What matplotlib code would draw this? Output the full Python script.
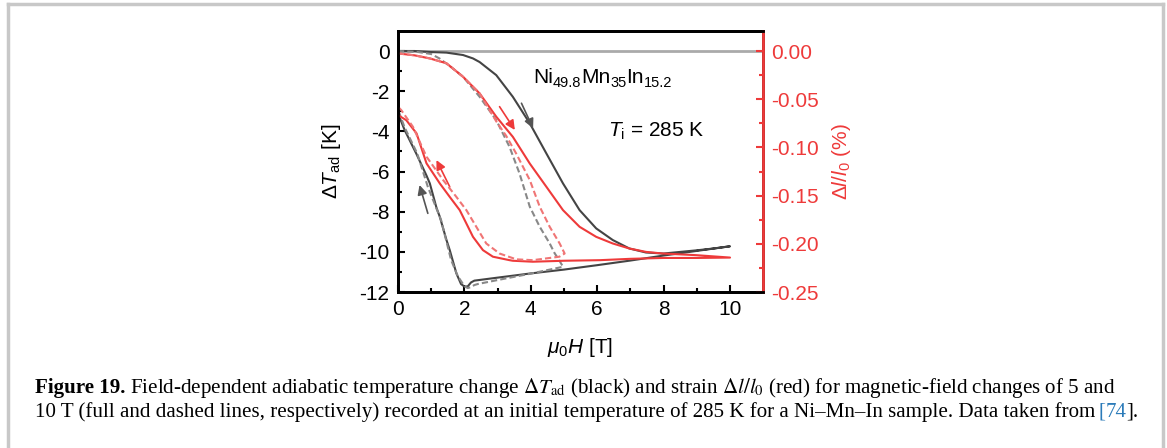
import matplotlib
matplotlib.use('Agg')
import matplotlib.pyplot as plt
from matplotlib.lines import Line2D

plt.rcParams['font.family'] = ['Liberation Sans', 'DejaVu Sans']
plt.rcParams['mathtext.fontset'] = 'custom'
plt.rcParams['mathtext.rm'] = 'Liberation Sans'
plt.rcParams['mathtext.it'] = 'Liberation Sans:italic'
plt.rcParams['mathtext.bf'] = 'Liberation Sans:bold'

# --- data ---
# adiabatic temperature change, 10 T loop (full, dark grey)
t10_up_x = [0, 0.5, 0.96, 1.46, 1.96, 2.26, 2.46, 2.96, 3.46, 3.97, 4.47, 4.97, 5.47, 5.97, 6.47, 6.97, 7.47, 8.0, 8.5, 9.0, 9.5, 10.0]
t10_up_y = [0, 0, -0.05, -0.08, -0.2, -0.37, -0.55, -1.2, -2.28, -3.6, -5.1, -6.59, -7.92, -8.83, -9.41, -9.83, -10.03, -10.08, -10.0, -9.92, -9.83, -9.72]
t10_dn_x = [10.0, 9.0, 8.0, 7.0, 6.0, 5.0, 4.0, 3.0, 2.3, 2.2, 2.1, 2.0, 1.9, 1.76, 1.56, 1.46, 1.26, 1.16, 0.96, 0.86, 0.55, 0.2, 0]
t10_dn_y = [-9.72, -9.95, -10.18, -10.43, -10.66, -10.88, -11.07, -11.28, -11.43, -11.52, -11.72, -11.72, -11.6, -11.07, -9.91, -9.4, -8.25, -7.8, -6.59, -6.2, -5.1, -3.93, -3.1]

# adiabatic temperature change, 5 T loop (dashed, grey)
t5_up_x = [0, 0.6, 1.0, 1.25, 1.6, 1.96, 2.46, 2.96, 3.36, 3.66, 3.97, 4.27, 4.57, 4.72, 4.85, 4.97]
t5_up_y = [0, -0.05, -0.15, -0.37, -0.8, -1.28, -2.28, -3.44, -4.77, -6.09, -7.75, -8.75, -9.58, -10.07, -10.4, -10.74]
t5_dn_x = [4.97, 4.0, 3.0, 2.4, 2.3, 2.2, 2.1, 2.0, 1.8, 1.6, 1.3, 0.9, 0.58, 0.2, 0]
t5_dn_y = [-10.74, -11.08, -11.4, -11.6, -11.65, -11.75, -11.8, -11.7, -11.2, -10.4, -8.42, -6.76, -5.1, -3.8, -2.9]

# strain (%), 10 T loop (full, red)
s10_up_x = [0, 0.5, 0.96, 1.46, 1.96, 2.46, 2.96, 3.46, 3.97, 4.47, 4.97, 5.47, 5.97, 6.47, 6.97, 7.47, 7.97, 8.98, 10.0]
s10_up_y = [-0.0025, -0.0045, -0.0077, -0.0127, -0.0267, -0.044, -0.0681, -0.0890, -0.1167, -0.1408, -0.1650, -0.1823, -0.1927, -0.1996, -0.2048, -0.2083, -0.2100, -0.2117, -0.2142]
s10_dn_x = [10.0, 9.0, 8.0, 7.0, 6.08, 5.0, 4.06, 3.46, 3.36, 2.86, 2.56, 2.26, 2.06, 1.86, 1.56, 1.26, 0.86, 0.56, 0.25, 0]
s10_dn_y = [-0.2142, -0.2146, -0.2146, -0.2155, -0.2169, -0.2175, -0.2185, -0.2175, -0.2169, -0.2133, -0.2065, -0.1927, -0.1788, -0.1650, -0.1513, -0.1373, -0.1165, -0.0854, -0.0717, -0.0665]

# strain (%), 5 T loop (dashed, light red)
s5_up_x = [0, 0.5, 0.96, 1.46, 1.96, 2.46, 2.96, 3.26, 3.56, 3.97, 4.27, 4.57, 4.87, 5.02]
s5_up_y = [-0.0025, -0.0045, -0.0077, -0.0127, -0.0267, -0.044, -0.0729, -0.0880, -0.1063, -0.1338, -0.1615, -0.1823, -0.1996, -0.2100]
s5_dn_x = [5.02, 4.86, 4.06, 3.56, 3.06, 2.66, 2.36, 2.06, 1.76, 1.36, 0.86, 0.45, 0.1, 0]
s5_dn_y = [-0.2100, -0.2133, -0.2169, -0.2160, -0.2100, -0.1996, -0.1823, -0.1650, -0.1513, -0.1338, -0.1096, -0.0785, -0.0613, -0.0577]

caption_1 = ' Field-dependent adiabatic temperature change $\\Delta T_{\\rm ad}$ (black) and strain $\\Delta l/l_0$ (red) for magnetic-field changes of 5 and'
caption_2 = '10 T (full and dashed lines, respectively) recorded at an initial temperature of 285 K for a Ni\u2013Mn\u2013In sample. Data taken from'
sample = [('Ni', '49.8'), ('Mn', '35'), ('In', '15.2')]

BLACK = '#444444'
GREY = '#888888'
RED = '#ee3a3a'
LRED = '#f07575'

W, H = 1167, 448
fig = plt.figure(figsize=(W / 100, H / 100), dpi=100)
ax = fig.add_axes([0.341, 0.348, 0.313, 0.583])
ax2 = ax.twinx()

ax.axhline(0, color='#aaaaaa', lw=2, zorder=1)
ax.plot(t10_up_x + t10_dn_x, t10_up_y + t10_dn_y, color=BLACK, lw=1.5)
ax.plot(t5_up_x + t5_dn_x, t5_up_y + t5_dn_y, color=GREY, lw=1.5, ls=(0, (3, 1.5)))
ax2.plot(s10_up_x + s10_dn_x, s10_up_y + s10_dn_y, color=RED, lw=1.5)
ax2.plot(s5_up_x + s5_dn_x, s5_up_y + s5_dn_y, color=LRED, lw=1.5, ls=(0, (3, 1.5)))

# direction arrows
arr = dict(arrowstyle='-|>', lw=1.2, mutation_scale=14, shrinkA=0, shrinkB=0)
ax.annotate('', xy=(4.07, -3.85), xytext=(3.72, -2.6), arrowprops=dict(arr, color='#555555'))
ax.annotate('', xy=(3.52, -3.93), xytext=(3.06, -2.77), arrowprops=dict(arr, color=RED))
ax.annotate('', xy=(0.65, -6.67), xytext=(0.9, -8.08), arrowprops=dict(arr, color='#555555'))
ax.annotate('', xy=(1.16, -5.43), xytext=(1.56, -6.76), arrowprops=dict(arr, color=RED))

ax.text(6.33, -4.0, '$T_{\\rm i}$ = 285 K', fontsize=15, va='center')

ax.set_xlim(0, 11)
ax.set_ylim(-12, 1)
ax2.set_ylim(-0.25, 0.25 / 12)
ax.set_xticks(range(0, 11, 2))
ax.set_xticks(range(1, 11, 2), minor=True)
ax.set_yticks(range(-12, 1, 2))
ax.set_yticks(range(-11, 1, 2), minor=True)
ax.set_yticklabels([str(v) for v in range(-12, 1, 2)])
ax2.set_yticks([0, -0.05, -0.10, -0.15, -0.20, -0.25])
ax2.set_yticks([-0.025, -0.075, -0.125, -0.175, -0.225], minor=True)
ax2.set_yticklabels(['0.00', '-0.05', '-0.10', '-0.15', '-0.20', '-0.25'])

ax.tick_params(which='both', direction='in', labelsize=15, width=1.5, pad=6)
ax.tick_params(which='major', length=5)
ax.tick_params(which='minor', length=3)
ax.tick_params(axis='y', right=False)
ax2.tick_params(which='both', direction='in', labelsize=15, width=1.5, color=RED, labelcolor=RED, pad=6)
ax2.tick_params(which='major', length=5)
ax2.tick_params(which='minor', length=3)
for s in ax.spines.values():
    s.set_linewidth(2)
for s in ax2.spines.values():
    s.set_linewidth(2)
ax2.spines['right'].set_color(RED)

ax.set_xlabel('$\\mu_0H$ [T]', fontsize=15, labelpad=12)
ax.set_ylabel('$\\Delta T_{\\rm ad}$ [K]', fontsize=15, labelpad=12)
ax2.set_ylabel('$\\Delta l/l_0$ (%)', fontsize=15, color=RED, labelpad=8, rotation=90)

# page frame
fr = dict(color='#c8c8c8', lw=2.5, transform=fig.transFigure)
fig.add_artist(Line2D([8 / W, 8 / W], [0, 1 - 4 / H], **fr))
fig.add_artist(Line2D([8 / W, 1163 / W], [1 - 4 / H, 1 - 4 / H], **fr))
fig.add_artist(Line2D([1163 / W, 1163 / W], [0, 1 - 4 / H], **fr))

fig.canvas.draw()
r = fig.canvas.get_renderer()


def runs(x, y, pieces, **kw):
    # place text pieces one after another on a baseline (display pixels)
    for s, size, dy, extra in pieces:
        t = fig.text(x / W, (y + dy) / H, s, fontsize=size, va='baseline', **extra, **kw)
        x = t.get_window_extent(r).x1
    return x


# sample formula with subscripts
px, py = ax.transData.transform((4.06, -1.61))
pieces = []
for el, sub in sample:
    pieces.append((el, 15, 0, {}))
    pieces.append((sub, 10.5, -4, {}))
runs(px, py, pieces)

# caption
cap = dict(family='Liberation Serif', math_fontfamily='stix')
cs = 15.1
x = runs(35, H - 393, [('Figure 19.', cs, 0, dict(fontweight='bold')), (caption_1, cs, 0, {})], **cap)
x = runs(35, H - 416.5, [(caption_2, cs, 0, {})], **cap)
blue = '#2b7bb9'
runs(x + 3, H - 416.5, [('[', cs, 0, dict(color=blue)), ('74', cs, 0, dict(color=blue)), ('].', cs, 0, {})], **cap)

fig.savefig('out.png', dpi=100)
